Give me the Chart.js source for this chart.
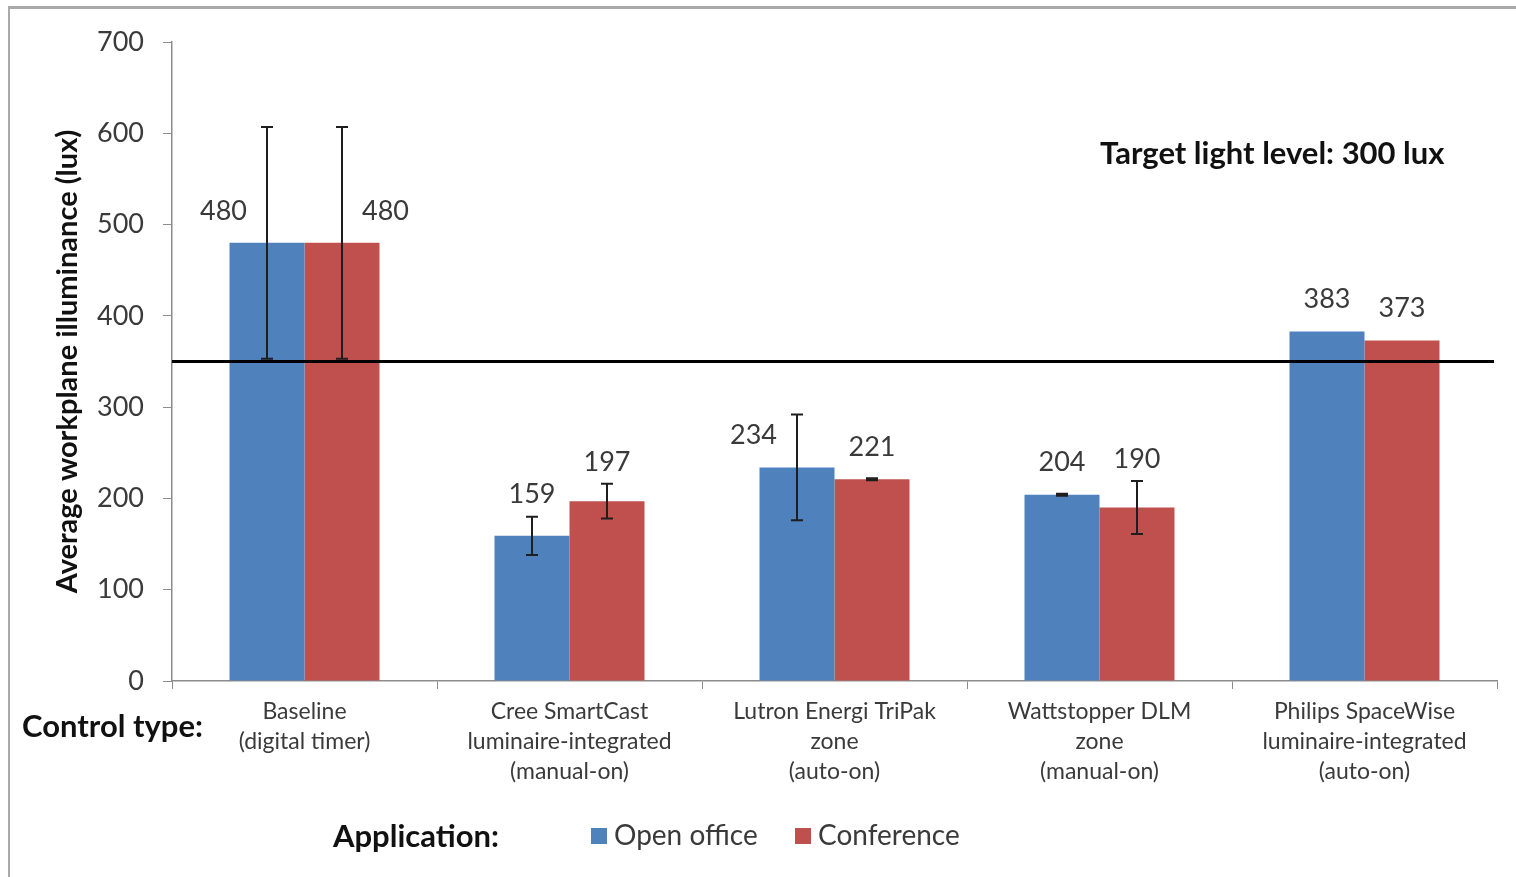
<!DOCTYPE html>
<html>
<head>
<meta charset="utf-8">
<script src="https://cdn.jsdelivr.net/npm/chart.js@4.4.0/dist/chart.umd.min.js"></script>
<style>
  html, body { margin: 0; padding: 0; background: #fff; }
  #wrap { position: relative; width: 1516px; height: 877px; }
  #frame { position: absolute; left: 8px; top: 6px; right: 0; bottom: 0;
           border-left: 2px solid #a9a9a9; border-top: 3px solid #a9a9a9; pointer-events: none; }
</style>
</head>
<body>
<div id="wrap">
  <canvas id="lightChart" width="1516" height="877"></canvas>
  <div id="frame"></div>
</div>
<script>
// data
const categories = [
  ['Baseline', '(digital timer)'],
  ['Cree SmartCast', 'luminaire-integrated', '(manual-on)'],
  ['Lutron Energi TriPak', 'zone', '(auto-on)'],
  ['Wattstopper DLM', 'zone', '(manual-on)'],
  ['Philips SpaceWise', 'luminaire-integrated', '(auto-on)']
];
const seriesNames = ['Open office', 'Conference'];
const openOffice = [480, 159, 234, 204, 383];
const conference = [480, 197, 221, 190, 373];
const openOfficeErr = [127, 21, 58, 1, 0];
const conferenceErr = [127, 19, 1, 29, 0];
const yTicks = [0, 100, 200, 300, 400, 500, 600, 700];
const targetLevel = 350;
const targetText = 'Target light level: 300 lux';

const FONT = 'Lato, "Liberation Sans", sans-serif';
const BLUE = '#4f81bd';
const RED = '#c0504d';
const TEXT = '#3a3a3a';
const AXIS = '#8c8c8c';

const overlay = {
  id: 'overlay',
  afterDatasetsDraw(chart) {
    const { ctx, chartArea: a, scales: { y } } = chart;
    const errs = [openOfficeErr, conferenceErr];
    ctx.save();

    // error bars
    chart.data.datasets.forEach((ds, di) => {
      chart.getDatasetMeta(di).data.forEach((bar, i) => {
        const e = errs[di][i];
        if (!e) return;
        const v = ds.data[i];
        const yt = y.getPixelForValue(v + e);
        const yb = y.getPixelForValue(v - e);
        ctx.strokeStyle = '#1e1e1e';
        ctx.lineWidth = 2;
        ctx.beginPath();
        ctx.moveTo(bar.x, yt); ctx.lineTo(bar.x, yb);
        ctx.moveTo(bar.x - 6, yt); ctx.lineTo(bar.x + 6, yt);
        ctx.moveTo(bar.x - 6, yb); ctx.lineTo(bar.x + 6, yb);
        ctx.stroke();
      });
    });

    // target line
    const ty = y.getPixelForValue(targetLevel);
    ctx.strokeStyle = '#000';
    ctx.lineWidth = 3;
    ctx.beginPath();
    ctx.moveTo(a.left, ty);
    ctx.lineTo(a.right - 3, ty);
    ctx.stroke();

    // value labels (moved aside when the error bar is tall)
    ctx.font = '27px ' + FONT;
    ctx.fillStyle = TEXT;
    ctx.textAlign = 'center';
    ctx.textBaseline = 'middle';
    chart.data.datasets.forEach((ds, di) => {
      chart.getDatasetMeta(di).data.forEach((bar, i) => {
        const v = ds.data[i];
        const e = errs[di][i];
        let lx = bar.x;
        let ly = bar.y - 32;
        if (e > 40) {
          lx += (di === 0 ? -1 : 1) * bar.width * 0.58;
        } else if (e > 0) {
          ly = Math.min(ly, y.getPixelForValue(v + e) - 22);
        }
        ctx.fillText(String(v), lx, ly);
      });
    });
    ctx.restore();
  },
  afterDraw(chart) {
    const { ctx } = chart;
    ctx.save();
    ctx.fillStyle = '#111';
    ctx.textBaseline = 'middle';
    ctx.textAlign = 'left';
    ctx.font = 'bold 31px ' + FONT;
    ctx.fillText(targetText, 1100, 154);
    ctx.fillText('Control type:', 22, 727);
    ctx.fillText('Application:', 333, 837);

    // legend
    const colors = [BLUE, RED];
    const xs = [591, 795];
    ctx.font = '28px ' + FONT;
    seriesNames.forEach((name, k) => {
      ctx.fillStyle = colors[k];
      ctx.fillRect(xs[k], 828, 16, 16);
      ctx.fillStyle = TEXT;
      ctx.fillText(name, xs[k] + 23, 836);
    });
    ctx.restore();
  }
};

const ctx = document.getElementById('lightChart').getContext('2d');
const chart = new Chart(ctx, {
  type: 'bar',
  data: {
    labels: categories,
    datasets: [
      { label: seriesNames[0], data: openOffice, backgroundColor: BLUE },
      { label: seriesNames[1], data: conference, backgroundColor: RED }
    ]
  },
  options: {
    responsive: false,
    animation: false,
    layout: { padding: { left: 10, right: 19, top: 42, bottom: 0 } },
    datasets: { bar: { categoryPercentage: 0.566, barPercentage: 1.0 } },
    plugins: {
      legend: { display: false },
      tooltip: { enabled: false }
    },
    scales: {
      x: {
        grid: { drawOnChartArea: false, color: AXIS, tickLength: 8, offset: true },
        border: { color: AXIS, width: 1.5 },
        ticks: {
          color: TEXT,
          font: { family: FONT, size: 23, lineHeight: 1.3 },
          padding: 8,
          maxRotation: 0,
          autoSkip: false
        },
        afterFit(scale) { scale.height = 877 - 681; }
      },
      y: {
        min: 0,
        max: 700,
        afterBuildTicks(scale) { scale.ticks = yTicks.map(v => ({ value: v })); },
        grid: { drawOnChartArea: false, color: AXIS, tickLength: 9 },
        border: { color: AXIS, width: 1.5 },
        ticks: {
          color: TEXT,
          font: { family: FONT, size: 27 },
          padding: 19
        },
        title: {
          display: true,
          text: 'Average workplane illuminance (lux)',
          color: '#111',
          font: { family: FONT, size: 29, weight: 'bold' },
          padding: { top: 40, bottom: 0 }
        },
        afterFit(scale) { scale.width = 172 - 10; }
      }
    }
  },
  plugins: [overlay]
});
</script>
</body>
</html>
